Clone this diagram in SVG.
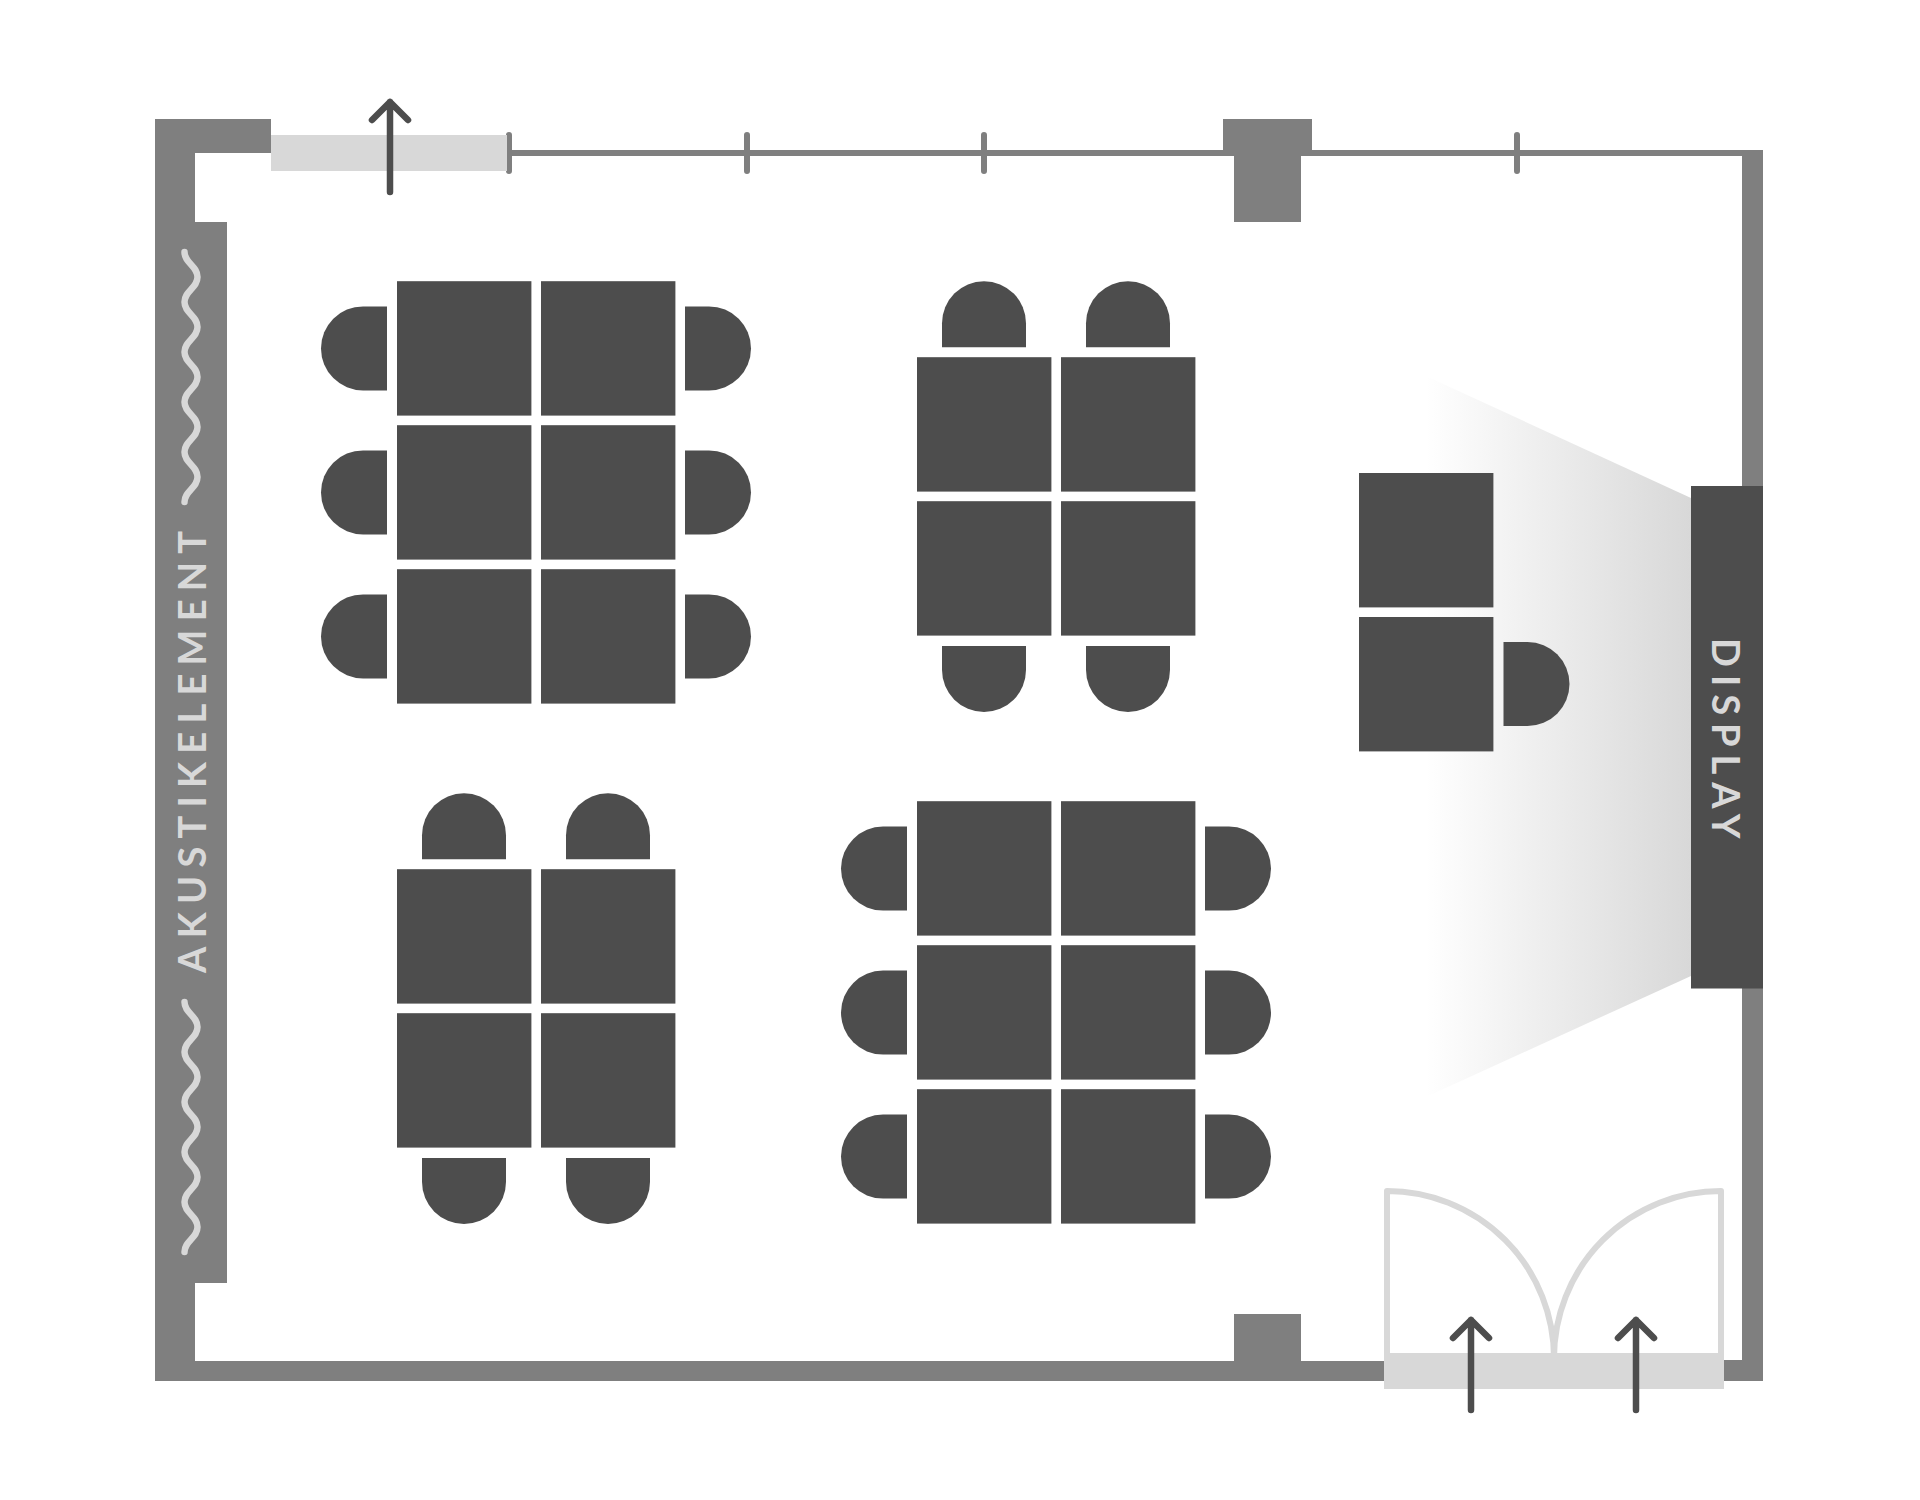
<svg xmlns="http://www.w3.org/2000/svg" xmlns:xlink="http://www.w3.org/1999/xlink" width="1920" height="1500" viewBox="0 0 1920 1500">
<defs>
<linearGradient id="g" gradientUnits="userSpaceOnUse" x1="1425" y1="0" x2="1691" y2="0"><stop offset="0" stop-color="#d8d8d8" stop-opacity="0"/><stop offset="1" stop-color="#d8d8d8"/></linearGradient>
<rect id="t" width="134.4" height="134.4" fill="#4d4d4d"/>
<path id="c" d="M-24 -42H0A42 42 0 0 1 0 42H-24Z" fill="#4d4d4d"/>
<path id="arrow" class="a" d="M0 90V0M-18 18L0 0L18 18"/>
<path id="wave" class="v" d="M0 0C0 11 13 14 13 25C13 36 0 39 0 50C0 61 13 64 13 75C13 86 0 89 0 100C0 111 13 114 13 125C13 136 0 139 0 150C0 161 13 164 13 175C13 186 0 189 0 200C0 211 13 214 13 225C13 236 0 239 0 250"/>
</defs>
<style>.a{fill:none;stroke:#4d4d4d;stroke-width:6.5;stroke-linecap:round;stroke-linejoin:round}.w{fill:#7f7f7f}.l{fill:#d8d8d8}.v{fill:none;stroke:#d8d8d8;stroke-width:6.5;stroke-linecap:round}.p{fill:none;stroke:#7f7f7f;stroke-width:6;stroke-linecap:round}.d{fill:none;stroke:#d8d8d8;stroke-width:6;stroke-linejoin:round}.f{font-family:Lato,"Noto Sans",sans-serif;font-size:38px;font-weight:700;fill:#d8d8d8}</style>
<rect width="1920" height="1500" fill="#fff"/>
<polygon id="beam" points="1428,377 1691,498 1691,976 1428,1096" fill="url(#g)"/>
<g id="walls">
<path class="w" d="M155 119H271V153H195V222H227V1283H195V1361H1234V1314H1301V1361H1384V1381H155Z"/>
<path class="w" d="M509 150H1223V119H1312V150H1763V1381H1724V1360H1742V156H1301V222H1234V156H509Z"/>
</g>
<g id="posts"><path class="p" d="M509 135V171M747 135V171M984 135V171M1517 135V171"/></g>
<rect id="window" class="l" x="271" y="135" width="236" height="36"/>
<g id="acoustic-panel">
<use xlink:href="#wave" href="#wave" x="184.5" y="252"/>
<use xlink:href="#wave" href="#wave" x="184.5" y="1002"/>
<text class="f" transform="translate(206 973) rotate(-90)" letter-spacing="8.25">AKUSTIKELEMENT</text>
</g>
<g id="group-1">
<use href="#t" x="397" y="281.2"/><use href="#t" x="541" y="281.2"/><use href="#t" x="397" y="425.2"/><use href="#t" x="541" y="425.2"/><use href="#t" x="397" y="569.2"/><use href="#t" x="541" y="569.2"/>
<use href="#c" transform="translate(363 348.4) rotate(180)"/><use href="#c" transform="translate(363 492.4) rotate(180)"/><use href="#c" transform="translate(363 636.4) rotate(180)"/>
<use href="#c" transform="translate(709 348.4)"/><use href="#c" transform="translate(709 492.4)"/><use href="#c" transform="translate(709 636.4)"/>
</g>
<g id="group-2">
<use href="#t" x="917" y="357.2"/><use href="#t" x="1061" y="357.2"/><use href="#t" x="917" y="501.2"/><use href="#t" x="1061" y="501.2"/>
<use href="#c" transform="translate(984 323.2) rotate(-90)"/><use href="#c" transform="translate(1128 323.2) rotate(-90)"/>
<use href="#c" transform="translate(984 670) rotate(90)"/><use href="#c" transform="translate(1128 670) rotate(90)"/>
</g>
<g id="group-3">
<use href="#t" x="397" y="869.2"/><use href="#t" x="541" y="869.2"/><use href="#t" x="397" y="1013.2"/><use href="#t" x="541" y="1013.2"/>
<use href="#c" transform="translate(464 835.2) rotate(-90)"/><use href="#c" transform="translate(608 835.2) rotate(-90)"/>
<use href="#c" transform="translate(464 1182) rotate(90)"/><use href="#c" transform="translate(608 1182) rotate(90)"/>
</g>
<g id="group-4">
<use href="#t" x="917" y="801.2"/><use href="#t" x="1061" y="801.2"/><use href="#t" x="917" y="945.2"/><use href="#t" x="1061" y="945.2"/><use href="#t" x="917" y="1089.2"/><use href="#t" x="1061" y="1089.2"/>
<use href="#c" transform="translate(883 868.6) rotate(180)"/><use href="#c" transform="translate(883 1012.6) rotate(180)"/><use href="#c" transform="translate(883 1156.6) rotate(180)"/>
<use href="#c" transform="translate(1229 868.6)"/><use href="#c" transform="translate(1229 1012.6)"/><use href="#c" transform="translate(1229 1156.6)"/>
</g>
<g id="teacher">
<use href="#t" x="1359" y="473"/><use href="#t" x="1359" y="617"/>
<use href="#c" transform="translate(1527.5 684)"/>
</g>
<g id="display">
<rect x="1691" y="486" width="72" height="502.5" fill="#4d4d4d"/>
<text class="f" transform="translate(1712 638) rotate(90)" letter-spacing="8">DISPLAY</text>
</g>
<g id="doors">
<path class="d" d="M1387 1353V1191A167 167 0 0 1 1554 1358"/>
<path class="d" d="M1721 1353V1191A167 167 0 0 0 1554 1358"/>
<rect class="l" x="1384" y="1353" width="340" height="36"/>
</g>
<g id="connectors">
<use href="#arrow" x="390" y="102"/>
<use href="#arrow" x="1471" y="1320"/>
<use href="#arrow" x="1636" y="1320"/>
</g>
</svg>
